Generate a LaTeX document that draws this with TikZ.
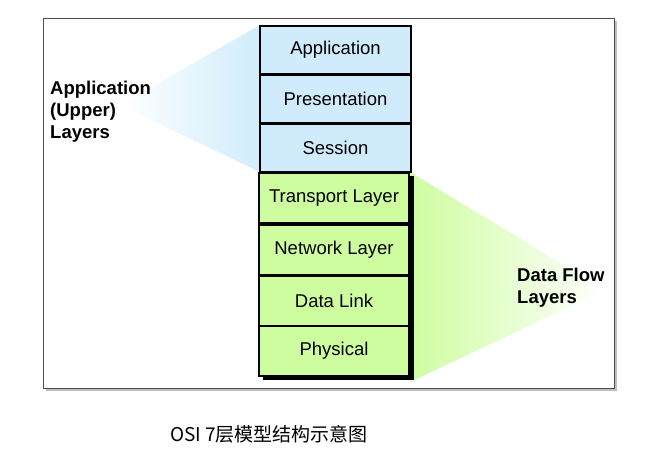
\documentclass[tikz,border=0pt]{standalone}
\usepackage{fontspec}
\setmainfont{Liberation Sans}
\newfontfamily\cjk{Noto Sans CJK SC}
\definecolor{lb}{RGB}{208,236,252}
\definecolor{lg}{RGB}{206,253,160}
\begin{document}
\begin{tikzpicture}[x=1pt,y=-1pt,
  blue/.style={draw=black,line width=1.5pt,fill=lb,minimum width=151pt,minimum height=48pt,font=\fontsize{18.5}{18.5}\selectfont,inner sep=0},
  green/.style={draw=black,line width=1.5pt,fill=lg,minimum width=150pt,minimum height=50pt,font=\fontsize{18.5}{18.5}\selectfont,inner sep=0},
  lbl/.style={font=\bfseries\fontsize{18.5}{22}\selectfont,align=left,anchor=north west,inner sep=0}]
\useasboundingbox (0,0) rectangle (647,458);
% frame
\fill[gray!50] (46,21) rectangle (617,391);
\draw[fill=white,line width=0.8pt,draw=gray!60!black] (43,18) rectangle (614,388);
% fans
\shade[left color=white,right color=lb] (120,105) -- (260,25) -- (260,172) -- cycle;
\shade[left color=lg,right color=white] (410,172) -- (605,290) -- (410,382) -- cycle;
% shadow
\fill[black] (263,176) rectangle (414,380);
\node[blue] (app) at (335.5,50) {Application};
\node[blue] (pre) at (335.5,99) {Presentation};
\node[blue] (ses) at (335.5,148) {Session};
\node[green] (tra) at (334,198) {Transport Layer};
\node[green] (net) at (334,250) {Network Layer};
\node[green] (dl) at (334,301) {Data Link};
\node[green] (phy) at (334,351) {Physical};
\node[lbl] (l1) at (50,81) {Application\\(Upper)\\Layers};
\node[lbl] (l2) at (517,268) {Data Flow\\Layers};
\node[font=\cjk\fontsize{19}{19}\selectfont] (cap) at (269,434) {OSI 7层模型结构示意图};
\end{tikzpicture}
\end{document}
